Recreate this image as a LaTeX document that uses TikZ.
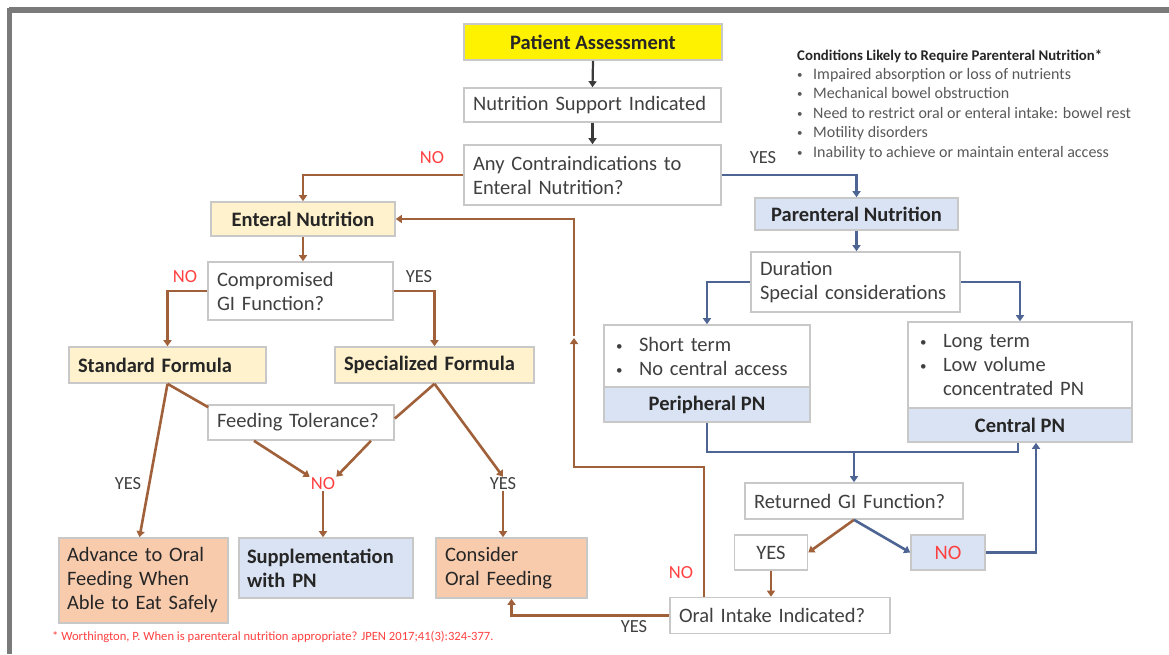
\documentclass[tikz,border=0pt]{standalone}
\usepackage{fontspec}
\setmainfont{Carlito}
\usetikzlibrary{arrows.meta}
\definecolor{bordergray}{HTML}{C8C8C8}
\definecolor{framegray}{HTML}{7A7A7A}
\definecolor{ylw}{HTML}{FFF2CC}
\definecolor{lblue}{HTML}{DAE3F3}
\definecolor{orng}{HTML}{F8CBAD}
\definecolor{brn}{HTML}{A0603A}
\definecolor{slate}{HTML}{4E6594}
\definecolor{dk}{HTML}{3A3A3A}
\definecolor{txt}{HTML}{404040}
\definecolor{ltxt}{HTML}{595959}
\definecolor{btxt}{HTML}{262626}
\definecolor{redl}{HTML}{FF4040}
\newcommand\mfont{\fontsize{20.5}{24}\selectfont}
\newcommand\lfont{\fontsize{18.5}{20}\selectfont}
\newcommand\bul{\makebox[23pt][l]{\raisebox{1pt}{\fontsize{13}{13}\selectfont\textbullet}}}
\newcommand\cbul{\makebox[16pt][l]{\raisebox{1pt}{\fontsize{11}{11}\selectfont\textbullet}}}
\begin{document}
\begin{tikzpicture}[x=1pt,y=-1pt,
  box/.style={draw=bordergray, line width=1.6pt, fill=white, inner ysep=0pt, inner xsep=9pt, font=\mfont, text=txt},
  lbox/.style={box, align=left},
  bbox/.style={box, font=\mfont\bfseries, text=btxt},
  tip/.style={-{Triangle[width=8pt,length=6pt]}},
  dkline/.style={draw=dk, line width=2.2pt, tip},
  bline/.style={draw=brn, line width=2.6pt, tip},
  bplain/.style={draw=brn, line width=2.6pt},
  sline/.style={draw=slate, line width=2.6pt, tip},
  splain/.style={draw=slate, line width=2.6pt},
  lab/.style={font=\lfont, text=txt, inner sep=1pt},
  rlab/.style={font=\lfont, text=redl, inner sep=1pt}
]
\useasboundingbox (0,0) rectangle (1169,654);
\fill[white] (0,0) rectangle (1169,654);
% frame
\draw[framegray, line width=6pt] (9,10) -- (1169,10);
\draw[framegray, line width=5pt] (9,8) -- (9,654);

% nodes
\node[bbox, fill=yellow, minimum width=258pt, minimum height=36pt] (pa) at (593,42) {Patient Assessment};
\node[lbox, text width=239pt, minimum height=34pt] (nsi) at (592.5,105) {Nutrition Support Indicated};
\node[lbox, text width=239pt, minimum height=60pt] (contra) at (592.5,175) {Any Contraindications to\\Enteral Nutrition?};
\node[bbox, fill=ylw, minimum width=184pt, minimum height=34pt] (enteral) at (303,219) {Enteral Nutrition};
\node[bbox, fill=lblue, minimum width=203pt, minimum height=32pt] (parent) at (856.5,214) {Parenteral Nutrition};
\node[lbox, text width=167pt, minimum height=58pt] (comp) at (300.5,291) {Compromised\\GI Function?};
\node[bbox, fill=ylw, text width=179pt, align=left, minimum height=36pt] (std) at (167.5,365) {Standard Formula};
\node[bbox, fill=ylw, text width=181pt, align=left, minimum height=36pt] (spec) at (434.5,365) {Specialized Formula};
\node[lbox, text width=168pt, minimum height=35pt] (feed) at (301,422.5) {Feeding Tolerance?};
\node[lbox, text width=191pt, minimum height=60pt] (dur) at (855.5,282) {Duration\\Special considerations};
\node[lbox, text width=182pt, minimum height=62pt, inner xsep=12pt] (short) at (707,356) {\bul Short term\\\bul No central access};
\node[bbox, fill=lblue, minimum width=206pt, minimum height=35pt] (peri) at (707,404.5) {Peripheral PN};
\node[lbox, text width=200pt, minimum height=86pt, inner xsep=12pt] (long) at (1020,365) {\bul Long term\\\bul Low volume\\\hspace*{23pt}concentrated PN};
\node[bbox, fill=lblue, minimum width=224pt, minimum height=34pt] (central) at (1020,425) {Central PN};
\node[lbox, text width=200pt, minimum height=36pt] (ret) at (854,501) {Returned GI Function?};
\node[box, minimum width=73pt, minimum height=35pt] (yesb) at (771,552.5) {YES};
\node[box, fill=lblue, text=redl, minimum width=74pt, minimum height=35pt] (nob) at (948,552.5) {NO};
\node[lbox, text width=202pt, minimum height=36pt] (oral) at (780,615.5) {Oral Intake Indicated?};
\node[lbox, fill=orng, text=btxt, text width=157pt, inner xsep=6pt, minimum height=85pt] (adv) at (143.5,580.5) {\hspace*{2pt}Advance to Oral\\\hspace*{2pt}Feeding When\\\hspace*{2pt}Able to Eat Safely};
\node[bbox, fill=lblue, text width=158pt, inner xsep=8pt, align=left, minimum height=60pt] (supp) at (326,568) {Supplementation\\with PN};
\node[lbox, fill=orng, text=btxt, text width=133pt, minimum height=60pt] (cons) at (511.5,568) {Consider\\Oral Feeding};

% conditions list
\node[anchor=north west, inner sep=0pt, font=\fontsize{14.8}{16}\selectfont\bfseries, text=btxt] (condt) at (797,50) {Conditions Likely to Require Parenteral Nutrition*};
\node[anchor=north west, align=left, inner sep=0pt, font=\fontsize{16}{19.5}\selectfont, text=ltxt] (cond) at (797,68) {%
  \cbul Impaired absorption or loss of nutrients\\
  \cbul Mechanical bowel obstruction\\
  \cbul Need to restrict oral or enteral intake: bowel rest\\
  \cbul Motility disorders\\
  \cbul Inability to achieve or maintain enteral access};

% footnote
\node[anchor=west, inner sep=0pt, font=\fontsize{12.6}{14}\selectfont, text=redl] (foot) at (52,637) {* Worthington, P. When is parenteral nutrition appropriate? JPEN 2017;41(3):324-377.};

% labels
\node[rlab] (no1) at (432,158) {NO};
\node[lab] (yes1) at (763,158) {YES};
\node[rlab] (no2) at (185,277) {NO};
\node[lab] (yes2) at (419,277) {YES};
\node[lab] (yesA) at (128,484) {YES};
\node[rlab] (noF) at (323,484) {NO};
\node[lab] (yesR) at (503,484) {YES};
\node[rlab] (noO) at (681,573) {NO};
\node[lab] (yesO) at (634,627) {YES};

% connectors top
\draw[dkline] (pa.south) -- (nsi.north);
\draw[dkline] (nsi.south) -- (contra.north);
\draw[bline] (contra.west) -| (enteral.north);
\draw[sline] (contra.east) -| (parent.north);
\draw[bline] (enteral.south) -- (enteral.south |- comp.north);
\draw[bline] (comp.west) -| (std.north);
\draw[bline] (comp.east) -| (spec.north);
% formulas
\draw[bplain] (std.south) -- ([shift={(1,3)}]feed.north west);
\draw[bline] (std.south) -- ([xshift=-4pt]adv.north);
\draw[bplain] (spec.south) -- ([shift={(0,-4)}]feed.east);
\draw[bline] (spec.south) -- (yesR.north);
\draw[bline] (yesR.south) -- (yesR.south |- cons.north);
\draw[bline] ([xshift=-47pt]feed.south) -- (noF.north west);
\draw[bline] ([xshift=70pt]feed.south) -- (noF.north east);
\draw[bline] (noF.south) -- (noF.south |- supp.north);
% oral intake
\draw[bline] (oral.west) -| (cons.south);
\coordinate (r1) at (704,467);
\coordinate (r2) at (574,467);
\coordinate (r3) at (574,338);
\draw[bline] (oral.north -| r1) -- (r1) -- (r2) -- (r3);
\draw[bline] ([yshift=2pt]r3) -- (r3 |- enteral.east) -- (enteral.east);
% parenteral
\draw[sline] (parent.south) -- (parent.south |- dur.north);
\draw[sline] (dur.west) -| (short.north);
\draw[sline] (dur.east) -| (long.north);
\coordinate (m) at (854,452);
\draw[splain] (peri.south) |- (m);
\draw[splain] ([xshift=-2pt]central.south) |- (m);
\draw[sline] (m) -- (m |- ret.north);
\draw[bline] (ret.south) -- (yesb.east);
\draw[sline] (ret.south) -- (nob.west);
\draw[sline] (nob.east) -| ([xshift=16pt]central.south);
\draw[bline] (yesb.south) -- (yesb.south |- oral.north);
\end{tikzpicture}
\end{document}
